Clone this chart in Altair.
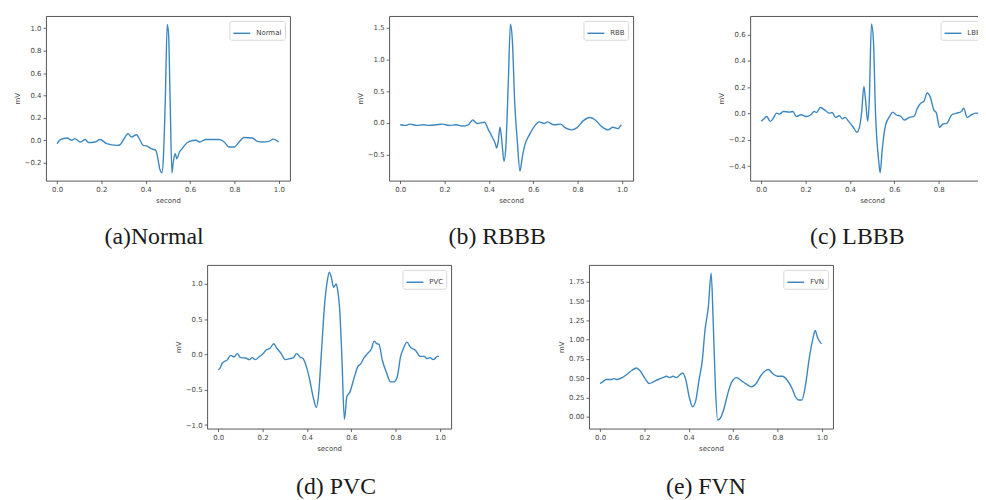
import altair as alt
import pandas as pd

# ---------------- data ----------------
normal_t = [0, 0.015, 0.045, 0.067, 0.08, 0.105, 0.127, 0.142, 0.172, 0.194, 0.224, 0.269, 0.284, 0.3,
            0.32, 0.336, 0.358, 0.373, 0.388, 0.403, 0.425, 0.445, 0.455, 0.463, 0.473, 0.48, 0.488,
            0.497, 0.503, 0.51, 0.518, 0.524, 0.533, 0.54, 0.552, 0.564, 0.575, 0.597, 0.627, 0.642,
            0.672, 0.731, 0.754, 0.776, 0.799, 0.821, 0.843, 0.881, 0.903, 0.925, 0.955, 0.975, 1.0]
normal_mv = [-0.03, 0.005, 0.02, 0.0, 0.015, -0.015, 0.007, -0.02, -0.015, 0.007, -0.03, -0.045, -0.04, 0.007,
             0.058, 0.03, 0.05, 0.007, -0.045, -0.05, -0.075, -0.09, -0.165, -0.255, -0.29, -0.135, 0.35,
             1.035, 0.945, 0.35, -0.29, -0.195, -0.12, -0.165, -0.105, -0.075, -0.045, -0.01, 0.0, -0.015,
             0.007, 0.007, -0.015, -0.06, -0.06, -0.015, 0.025, 0.02, -0.01, -0.015, -0.01, 0.01, -0.015]

rbb_t = [0, 0.022, 0.044, 0.074, 0.103, 0.133, 0.162, 0.192, 0.221, 0.251, 0.28, 0.307, 0.327, 0.347,
         0.38, 0.398, 0.413, 0.428, 0.435, 0.442, 0.45, 0.457, 0.468, 0.476, 0.487, 0.497, 0.506,
         0.516, 0.528, 0.54, 0.55, 0.563, 0.583, 0.605, 0.627, 0.649, 0.664, 0.693, 0.723, 0.745,
         0.774, 0.796, 0.826, 0.855, 0.878, 0.907, 0.937, 0.959, 0.981, 0.996]
rbb_mv = [-0.03, -0.04, -0.02, -0.04, -0.03, -0.04, -0.03, -0.02, -0.04, -0.03, -0.05, -0.03, 0.045, -0.01,
          0.01, -0.11, -0.21, -0.32, -0.395, -0.29, -0.07, -0.24, -0.605, -0.395, 0.6, 1.555, 1.28,
          0.34, -0.29, -0.76, -0.55, -0.34, -0.185, -0.055, 0.015, -0.01, 0.015, -0.03, -0.02, -0.08,
          -0.11, -0.08, 0.035, 0.085, 0.05, -0.055, -0.11, -0.07, -0.09, -0.03]

lbbb_t = [0, 0.015, 0.025, 0.04, 0.055, 0.069, 0.084, 0.099, 0.128, 0.143, 0.158, 0.18, 0.202, 0.224,
          0.239, 0.25, 0.266, 0.291, 0.306, 0.32, 0.335, 0.353, 0.365, 0.379, 0.394, 0.416, 0.431,
          0.441, 0.453, 0.463, 0.471, 0.48, 0.487, 0.497, 0.506, 0.515, 0.53, 0.536, 0.546, 0.561,
          0.579, 0.593, 0.608, 0.63, 0.645, 0.667, 0.689, 0.704, 0.719, 0.733, 0.748, 0.763, 0.778,
          0.79, 0.804, 0.819, 0.837, 0.859, 0.881, 0.903, 0.913, 0.928, 0.948, 0.97, 0.992, 1.0]
lbbb_mv = [-0.06, -0.036, -0.023, -0.06, -0.036, 0.002, -0.005, 0.015, 0.01, 0.015, -0.023, -0.01, -0.023, -0.01,
           0.015, 0.007, 0.045, 0.02, 0.002, 0.007, -0.03, -0.018, -0.04, -0.03, -0.06, -0.107, -0.143,
           -0.117, 0.015, 0.205, 0.09, -0.06, 0.09, 0.68, 0.55, 0.015, -0.367, -0.45, -0.265, -0.087,
           -0.023, 0.01, -0.01, -0.023, -0.05, -0.03, -0.023, 0.04, 0.078, 0.09, 0.155, 0.12, 0.027,
           0.002, -0.107, -0.08, -0.075, -0.01, 0.002, 0.015, 0.04, -0.03, -0.01, 0.002, -0.005, -0.002]

pvc_t = [0, 0.007, 0.019, 0.042, 0.056, 0.071, 0.086, 0.101, 0.123, 0.141, 0.153, 0.168, 0.183, 0.2,
         0.215, 0.235, 0.25, 0.264, 0.284, 0.302, 0.324, 0.339, 0.354, 0.369, 0.383, 0.398, 0.413,
         0.428, 0.443, 0.453, 0.465, 0.48, 0.492, 0.501, 0.51, 0.52, 0.532, 0.539, 0.547, 0.557,
         0.569, 0.58, 0.594, 0.614, 0.629, 0.643, 0.658, 0.673, 0.691, 0.703, 0.715, 0.725, 0.74,
         0.759, 0.777, 0.792, 0.807, 0.822, 0.836, 0.851, 0.866, 0.889, 0.911, 0.929, 0.941, 0.955,
         0.97, 0.988, 0.995]
pvc_mv = [-0.215, -0.2, -0.12, -0.073, -0.012, -0.035, 0.012, -0.045, -0.05, -0.073, -0.045, -0.073, -0.035, 0.002,
          0.06, 0.092, 0.153, 0.092, 0.012, -0.073, -0.059, -0.045, 0.012, -0.035, -0.059, -0.176, -0.365,
          -0.6, -0.751, -0.553, 0.012, 0.718, 1.047, 1.165, 1.094, 0.953, 1.0, 0.906, 0.671, 0.012,
          -0.92, -0.6, -0.53, -0.318, -0.176, -0.13, -0.045, 0.012, 0.082, 0.19, 0.153, 0.143, -0.082,
          -0.26, -0.388, -0.388, -0.318, -0.035, 0.092, 0.176, 0.106, 0.06, -0.026, -0.026, -0.059, -0.045,
          -0.073, -0.026, -0.026]

fvn_t = [0, 0.012, 0.027, 0.049, 0.063, 0.078, 0.1, 0.122, 0.144, 0.164, 0.181, 0.203, 0.222, 0.24,
         0.262, 0.284, 0.299, 0.314, 0.329, 0.343, 0.358, 0.373, 0.387, 0.402, 0.417, 0.432, 0.446,
         0.461, 0.473, 0.488, 0.501, 0.51, 0.52, 0.53, 0.542, 0.557, 0.576, 0.594, 0.616, 0.638,
         0.66, 0.682, 0.704, 0.726, 0.744, 0.759, 0.778, 0.8, 0.822, 0.844, 0.866, 0.881, 0.896,
         0.91, 0.925, 0.944, 0.958, 0.97, 0.98, 0.992, 0.999]
fvn_mv = [0.43, 0.451, 0.482, 0.482, 0.494, 0.482, 0.507, 0.55, 0.602, 0.632, 0.593, 0.494, 0.43, 0.451,
          0.482, 0.507, 0.524, 0.507, 0.524, 0.507, 0.537, 0.567, 0.473, 0.258, 0.129, 0.215, 0.473,
          0.731, 1.118, 1.419, 1.862, 1.247, 0.387, -0.043, -0.021, 0.086, 0.301, 0.451, 0.507, 0.464,
          0.421, 0.387, 0.43, 0.537, 0.593, 0.611, 0.559, 0.524, 0.524, 0.473, 0.365, 0.258, 0.215,
          0.215, 0.387, 0.774, 0.989, 1.118, 1.032, 0.968, 0.946]

legend_names = ["Normal", "RBB", "LBBB", "PVC", "FVN"]
captions = ["(a)Normal", "(b) RBBB", "(c) LBBB", "(d) PVC", "(e) FVN"]
x_ticks = [0.0, 0.2, 0.4, 0.6, 0.8, 1.0]
normal_yticks = [-0.2, 0.0, 0.2, 0.4, 0.6, 0.8, 1.0]
rbb_yticks = [-0.5, 0.0, 0.5, 1.0, 1.5]
lbbb_yticks = [-0.4, -0.2, 0.0, 0.2, 0.4, 0.6]
pvc_yticks = [-1.0, -0.5, 0.0, 0.5, 1.0]
fvn_yticks = [0.0, 0.25, 0.5, 0.75, 1.0, 1.25, 1.5, 1.75]

LINE = "#3d87c0"
SANS = "DejaVu Sans"


def panel(t, v, name, caption, ydom, yticks, yfmt, h, dx, offset):
    df = pd.DataFrame({"second": t, "mV": v, "series": [name] * len(t)})
    return alt.Chart(df).mark_line(strokeWidth=1.4, interpolate="monotone").encode(
        x=alt.X("second:Q",
                scale=alt.Scale(domain=[-0.05, 1.05], nice=False, zero=False),
                axis=alt.Axis(values=x_ticks, format=".1f", title="second", grid=False)),
        y=alt.Y("mV:Q",
                scale=alt.Scale(domain=ydom, nice=False, zero=False),
                axis=alt.Axis(values=yticks, format=yfmt, title="mV", grid=False)),
        color=alt.Color("series:N", scale=alt.Scale(range=[LINE]),
                        legend=alt.Legend(title=None, orient="top-right")),
    ).properties(
        width=246, height=h,
        title=alt.TitleParams(text=caption, orient="bottom", anchor="middle",
                              font="Liberation Serif", fontSize=24, fontWeight="normal",
                              color="#1a1a1a", offset=offset, dx=dx),
    )


p1 = panel(normal_t, normal_mv, legend_names[0], captions[0], [-0.36, 1.11], normal_yticks, ".1f", 166, -14, 22)
p2 = panel(rbb_t, rbb_mv, legend_names[1], captions[1], [-0.91, 1.685], rbb_yticks, ".1f", 166, -14, 22)
p3 = panel(lbbb_t, lbbb_mv, legend_names[2], captions[2], [-0.51, 0.74], lbbb_yticks, ".1f", 166, -15, 22)
p4 = panel(pvc_t, pvc_mv, legend_names[3], captions[3], [-1.05, 1.27], pvc_yticks, ".1f", 165, 7, 24)
p5 = panel(fvn_t, fvn_mv, legend_names[4], captions[4], [-0.155, 1.97], fvn_yticks, ".2f", 165, -5, 24)

left_pair = alt.hconcat(p1, p2, spacing=65).resolve_scale(color="independent").resolve_legend(color="independent")
row1 = alt.hconcat(left_pair, p3, spacing=83).resolve_scale(color="independent").resolve_legend(color="independent")
row2 = alt.hconcat(p4, p5, spacing=105).resolve_scale(color="independent").resolve_legend(color="independent")

PAD_L, PAD_T = 38, 6
chart = alt.vconcat(row1, row2, spacing=14, center=True).resolve_scale(
    color="independent").resolve_legend(color="independent").properties(
    autosize=alt.AutoSizeParams(type="none"),
    padding={"left": PAD_L, "top": PAD_T, "right": 978 - PAD_L, "bottom": 492 - PAD_T},
    background="white",
).configure_view(
    stroke="#555555", strokeWidth=1
).configure_axis(
    domain=False, grid=False,
    labelFont=SANS, labelFontSize=7, labelColor="#444444", labelPadding=2,
    tickColor="#444444", tickSize=3, tickWidth=0.8,
    titleFont=SANS, titleFontSize=7, titleFontWeight="normal", titleColor="#444444",
    titlePadding=4,
).configure_legend(
    offset=5, padding=3, strokeColor="#d8d8d8", cornerRadius=2, fillColor="white",
    symbolType="stroke", symbolSize=289, symbolStrokeWidth=1.5,
    labelFont=SANS, labelFontSize=7, labelColor="#444444", labelOffset=5,
)

chart.save("out.html", embed_options={"renderer": "svg", "actions": False})
